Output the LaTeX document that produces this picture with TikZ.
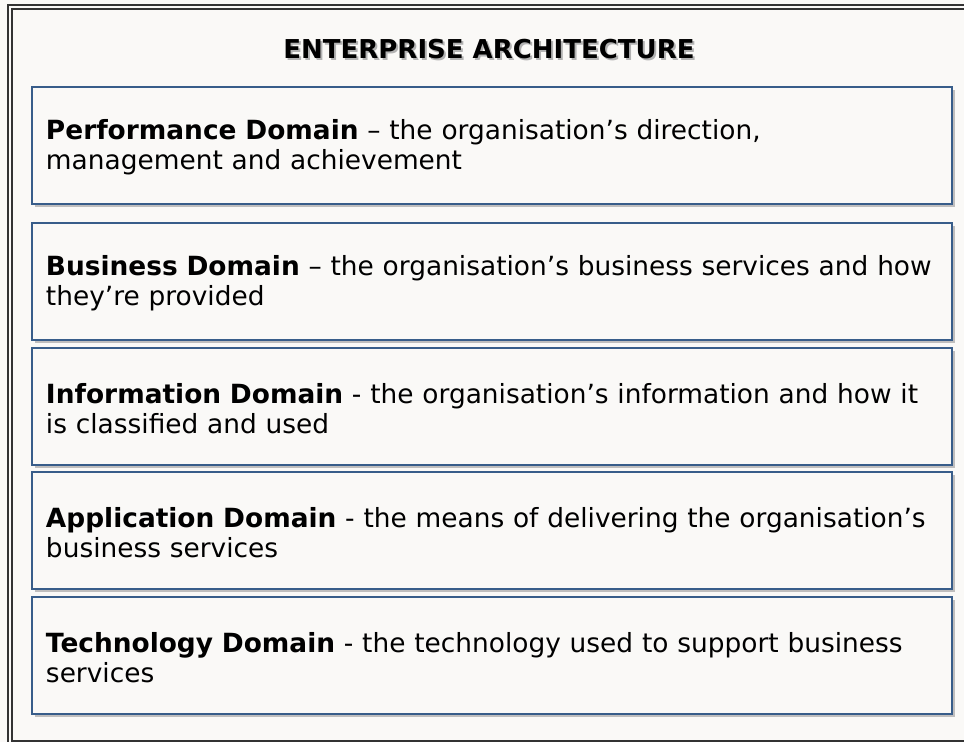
\documentclass[tikz,border=0pt]{standalone}
\usepackage{fontspec}
\setmainfont{DejaVu Sans}
\usepackage{xcolor}
\usepackage{tikz}
\usetikzlibrary{shadows}

\definecolor{paper}{RGB}{250,249,247}
\definecolor{edgeblue}{RGB}{56,93,138}

\newcommand{\firststrut}{\rule{0pt}{12pt}}

\tikzset{
    domainbox/.style={draw=edgeblue, line width=1pt, fill=paper,
        text width=446pt, inner xsep=7pt, minimum height=58.5pt, align=left,
        font=\fontsize{13.2}{15}\selectfont,
        drop shadow={shadow xshift=1.5pt, shadow yshift=-1.5pt, fill=black!35, opacity=0.7}},
    frameline/.style={draw=black!80, line width=0.8pt},
    headtext/.style={font=\bfseries\fontsize{13}{15}\selectfont}
}

\begin{document}
\begin{tikzpicture}[x=0.5pt, y=-0.5pt]
    \useasboundingbox (0,0) rectangle (964,742);
    \clip (0,0) rectangle (964,742);
    \fill[paper] (0,0) rectangle (964,742);

    % outer double frame
    \draw[frameline] (8,5) rectangle (970,746);
    \draw[frameline] (12,9) rectangle (966,741);

    \node[headtext, text=black!30] (titleshadow) at (491,51) {ENTERPRISE ARCHITECTURE};
    \node[headtext] (title) at (489,49) {ENTERPRISE ARCHITECTURE};

    \node[domainbox] (perf) at (492,145.5) {\firststrut\textbf{Performance Domain} – the organisation’s direction,\\management and achievement};
    \node[domainbox] (busi) at (492,281.5) {\firststrut\textbf{Business Domain} – the organisation’s business services and how\\they’re provided};
    \node[domainbox] (info) at (492,406.5) {\firststrut\textbf{Information Domain} - the organisation’s information and how it\\is classified and used};
    \node[domainbox] (appl) at (492,530.5) {\firststrut\textbf{Application Domain} - the means of delivering the organisation’s\\business services};
    \node[domainbox] (tech) at (492,655.5) {\firststrut\textbf{Technology Domain} - the technology used to support business\\services};
\end{tikzpicture}
\end{document}
